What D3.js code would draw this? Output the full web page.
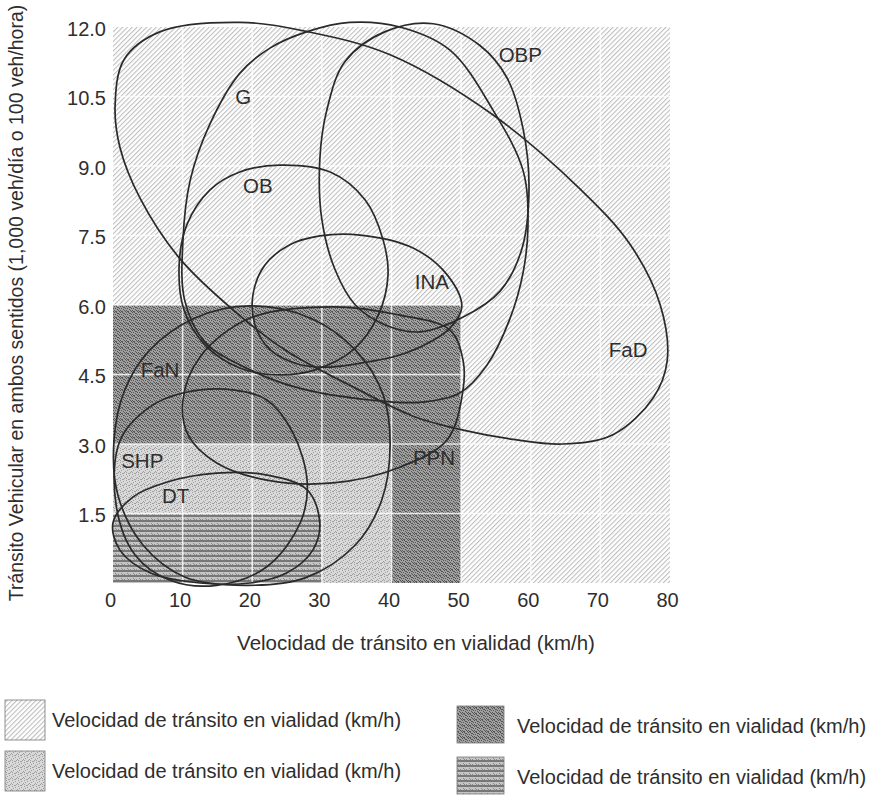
<!DOCTYPE html>
<html>
<head>
<meta charset="utf-8">
<script src="https://cdn.jsdelivr.net/npm/d3@7"></script>
<style>
  body { margin: 0; background: #fff; }
  text { font-family: "Liberation Sans", Arial, sans-serif; fill: #2e2e2e; }
</style>
</head>
<body>
<svg id="chart" width="878" height="806"></svg>
<script>
// ---- axis ticks ----
const xTickValues = [0, 10, 20, 30, 40, 50, 60, 70, 80];
const yTickValues = [1.5, 3.0, 4.5, 6.0, 7.5, 9.0, 10.5, 12.0];
const xTitle = "Velocidad de tránsito en vialidad (km/h)";
const yTitle = "Tránsito Vehicular en ambos sentidos (1,000 veh/día o 100 veh/hora)";

// ---- shaded zones (speed km/h x traffic) ----
const zoneHatch = [{ x0: 0, x1: 80, y0: 0, y1: 12 }];
const zoneLight = [{ x0: 0, x1: 40, y0: 0, y1: 3 }];
const zoneDark = [{ x0: 0, x1: 50, y0: 3, y1: 6 }, { x0: 40, x1: 50, y0: 0, y1: 3 }];
const zoneStripe = [{ x0: 0, x1: 30, y0: 0, y1: 1.5 }];

// ---- envelopes of each road class [speed, traffic] ----
const curveFaD = [[0.3,10.3],[1.6,11.3],[6.8,11.9],[18.2,12.1],[27.9,11.9],[39.8,11.4],[54.6,10.1],[67.1,8.5],[74.3,7.3],[78.6,6.0],[79.6,4.8],[77.6,4.0],[71.8,3.2],[64.6,3.0],[57.5,3.1],[50.3,3.3],[43.1,3.6],[33.6,4.3],[25.0,5.0],[17.2,5.9],[9.6,7.0],[3.9,8.3],[1.0,9.4]];
const curveG = [[27.9,11.9],[34.0,12.1],[41.2,12.0],[48.4,11.5],[54.6,10.2],[58.9,8.9],[59.6,7.7],[58.9,6.7],[57.0,5.7],[53.7,4.7],[49.8,4.1],[44.1,3.9],[36.9,3.95],[26.9,4.2],[19.7,4.6],[13.2,5.2],[10.3,6.1],[10.05,7.4],[11.1,8.7],[13.9,9.9],[18.2,11.0],[22.6,11.55]];
const curveOBP = [[46.0,12.07],[52.7,11.6],[56.6,10.9],[58.9,9.8],[59.75,8.5],[58.7,7.2],[55.6,6.3],[50.3,5.74],[44.1,5.42],[39.1,5.57],[34.8,6.0],[31.9,6.76],[30.0,7.84],[29.7,9.13],[30.7,10.2],[33.3,11.25],[39.1,11.9]];
const curveOB = [[24.0,9.02],[31.2,8.87],[36.2,8.27],[38.8,7.4],[39.5,6.65],[38.1,5.78],[34.5,5.03],[29.0,4.6],[24.0,4.49],[18.2,4.64],[13.2,5.14],[10.2,5.89],[9.5,6.86],[10.6,7.73],[13.9,8.48],[18.2,8.87]];
const curveINA = [[35.5,7.51],[43.1,7.23],[48.0,6.65],[50.1,5.96],[48.4,5.5],[46.0,5.24],[41.2,4.92],[36.5,4.77],[31.2,4.66],[26.9,4.71],[22.6,5.03],[20.4,5.57],[20.1,6.22],[21.8,6.86],[25.4,7.3],[29.7,7.49]];
const curveFaN = [[19.7,5.98],[28.3,5.72],[34.8,5.03],[38.8,4.06],[39.8,2.98],[38.6,1.79],[34.8,0.82],[27.6,0.11],[19.0,-0.05],[10.3,0.13],[4.3,0.82],[0.7,1.9],[0.15,3.09],[1.7,4.17],[5.3,5.03],[11.8,5.72]];
const curvePPN = [[10.05,3.95],[12.5,4.88],[19.7,5.72],[31.6,5.96],[41.2,5.78],[48.4,5.46],[50.27,4.81],[50.27,4.17],[48.0,3.09],[41.2,2.5],[31.6,2.16],[22.1,2.22],[14.9,2.59],[10.8,3.19]];
const curveSHP = [[10.05,4.1],[17.2,4.17],[22.1,3.95],[25.85,3.24],[27.9,2.16],[26.9,1.3],[22.1,0.35],[14.9,-0.05],[8.2,0.06],[3.2,0.6],[0.45,1.68],[1.0,3.07],[5.3,3.8]];
const curveDT = [[0.0,1.3],[2.9,1.86],[7.8,2.18],[14.9,2.37],[22.1,2.33],[27.9,2.01],[29.7,1.3],[28.7,0.71],[25.0,0.22],[19.7,0.0],[12.5,0.0],[5.3,0.22],[1.0,0.71]];

const curveNames = ["FaD", "G", "OBP", "OB", "INA", "FaN", "PPN", "SHP", "DT"];
const curvePoints = [curveFaD, curveG, curveOBP, curveOB, curveINA, curveFaN, curvePPN, curveSHP, curveDT];
const labelText = ["FaD", "G", "OBP", "INA", "FaN", "PPN", "SHP", "DT", "OB"];
const labelX = [74.0, 18.7, 58.5, 45.8, 6.75, 46.1, 4.2, 9.0, 20.8];
const labelY = [5.03, 10.49, 11.40, 6.50, 4.60, 2.70, 2.65, 1.88, 8.57];

const legendText = [
  "Velocidad de tránsito en vialidad (km/h)",
  "Velocidad de tránsito en vialidad (km/h)",
  "Velocidad de tránsito en vialidad (km/h)",
  "Velocidad de tránsito en vialidad (km/h)"
];
const legendFill = ["hatch", "light", "dark", "stripe"];

// ---- drawing ----
const svg = d3.select("#chart");
const x = d3.scaleLinear().domain([0, 80]).range([113, 670]);
const y = d3.scaleLinear().domain([0, 12]).range([583, 27]);
const FONT = '"Liberation Sans", Arial, sans-serif';

const defs = svg.append("defs");

// diagonal hatching
const ph = defs.append("pattern").attr("id", "hatch")
  .attr("patternUnits", "userSpaceOnUse").attr("width", 3.4).attr("height", 3.4)
  .attr("patternTransform", "rotate(45)");
ph.append("rect").attr("width", 3.4).attr("height", 3.4).attr("fill", "#fff");
ph.append("line").attr("x1", 0.6).attr("y1", 0).attr("x2", 0.6).attr("y2", 3.4)
  .attr("stroke", "#acacac").attr("stroke-width", 0.85);

// stipple helper: fixed dot layout
function stipple(id, bg, dot, dots, size) {
  const p = defs.append("pattern").attr("id", id)
    .attr("patternUnits", "userSpaceOnUse").attr("width", size).attr("height", size);
  p.append("rect").attr("width", size).attr("height", size).attr("fill", bg);
  dots.forEach(([dx, dy]) => p.append("rect").attr("x", dx).attr("y", dy)
    .attr("width", 1).attr("height", 1).attr("fill", dot));
}
stipple("light", "#d9d9d9", "#9e9e9e",
  [[0,0],[3,1],[1,2],[4,4],[2,5],[5,3],[0,4],[3,5]], 6);
stipple("dark", "#a0a0a0", "#555",
  [[0,0],[2,0],[4,1],[1,2],[3,3],[5,2],[0,4],[2,5],[4,4],[5,5],[1,5],[3,1]], 6);

// horizontal stripes
const ps = defs.append("pattern").attr("id", "stripe")
  .attr("patternUnits", "userSpaceOnUse").attr("width", 6).attr("height", 5);
ps.append("rect").attr("width", 6).attr("height", 5).attr("fill", "#c4c4c4");
ps.append("rect").attr("y", 0).attr("width", 6).attr("height", 2).attr("fill", "#777");
[[1,3],[4,4],[2,4]].forEach(([dx, dy]) => ps.append("rect").attr("x", dx).attr("y", dy)
  .attr("width", 1).attr("height", 1).attr("fill", "#8a8a8a"));

const plot = svg.append("g");

function drawZones(zones, fill) {
  plot.selectAll(null).data(zones).enter().append("rect")
    .attr("x", d => x(d.x0)).attr("y", d => y(d.y1))
    .attr("width", d => x(d.x1) - x(d.x0)).attr("height", d => y(d.y0) - y(d.y1))
    .attr("fill", `url(#${fill})`);
}
drawZones(zoneHatch, "hatch");
drawZones(zoneLight, "light");
drawZones(zoneDark, "dark");
drawZones(zoneStripe, "stripe");

// white grid
const gridX = xTickValues.slice(1, -1);
const gridY = yTickValues.slice(0, -1);
plot.selectAll(null).data(gridX).enter().append("line")
  .attr("x1", d => x(d)).attr("x2", d => x(d)).attr("y1", y(12)).attr("y2", y(0))
  .attr("stroke", "#fff").attr("stroke-width", 1.6).attr("opacity", 0.8);
plot.selectAll(null).data(gridY).enter().append("line")
  .attr("y1", d => y(d)).attr("y2", d => y(d)).attr("x1", x(0)).attr("x2", x(80))
  .attr("stroke", "#fff").attr("stroke-width", 1.6).attr("opacity", 0.8);

// envelopes
const line = d3.line().x(d => x(d[0])).y(d => y(d[1])).curve(d3.curveCatmullRomClosed.alpha(0.5));
plot.selectAll(null).data(curvePoints).enter().append("path")
  .attr("d", line).attr("fill", "none").attr("stroke", "#2a2a2a").attr("stroke-width", 1.7);

// class labels
plot.selectAll(null).data(labelText).enter().append("text")
  .attr("x", (d, i) => x(labelX[i])).attr("y", (d, i) => y(labelY[i]))
  .attr("dy", "0.36em").attr("text-anchor", "middle")
  .attr("font-size", 20.5).text(d => d);

// axes
const xAxis = d3.axisBottom(x).tickValues(xTickValues).tickSize(0).tickPadding(0).tickFormat(d3.format("d"));
const gx = svg.append("g").attr("transform", `translate(-3,${y(0) + 24})`).call(xAxis);
gx.select(".domain").remove();
gx.selectAll("text").attr("font-size", 20).attr("fill", "#2e2e2e").attr("dy", 0)
  .style("font-family", FONT);

const yAxis = d3.axisLeft(y).tickValues(yTickValues).tickSize(0).tickPadding(0).tickFormat(d3.format(".1f"));
const gy = svg.append("g").attr("transform", `translate(${x(0) - 7},2)`).call(yAxis);
gy.select(".domain").remove();
gy.selectAll("text").attr("font-size", 20).attr("fill", "#2e2e2e")
  .style("font-family", FONT);

svg.append("text").attr("x", 416).attr("y", 650).attr("text-anchor", "middle")
  .attr("font-size", 20.5).text(xTitle);
svg.append("text").attr("transform", `translate(23,303) rotate(-90)`).attr("text-anchor", "middle")
  .attr("font-size", 19.5).text(yTitle);

// legend
const legendPos = [[5, 700], [5, 751], [457, 706], [457, 757]];
const lg = svg.append("g");
lg.selectAll(null).data(legendFill).enter().append("rect")
  .attr("x", (d, i) => legendPos[i][0]).attr("y", (d, i) => legendPos[i][1])
  .attr("width", (d, i) => i < 2 ? 40 : 47).attr("height", (d, i) => i < 2 ? 40 : 37)
  .attr("fill", d => `url(#${d})`).attr("stroke", "#777").attr("stroke-width", 0.8);
lg.selectAll(null).data(legendText).enter().append("text")
  .attr("x", (d, i) => legendPos[i][0] + (i < 2 ? 47 : 60))
  .attr("y", (d, i) => legendPos[i][1] + 20).attr("dy", "0.36em")
  .attr("font-size", 20).text(d => d);
</script>
</body>
</html>
